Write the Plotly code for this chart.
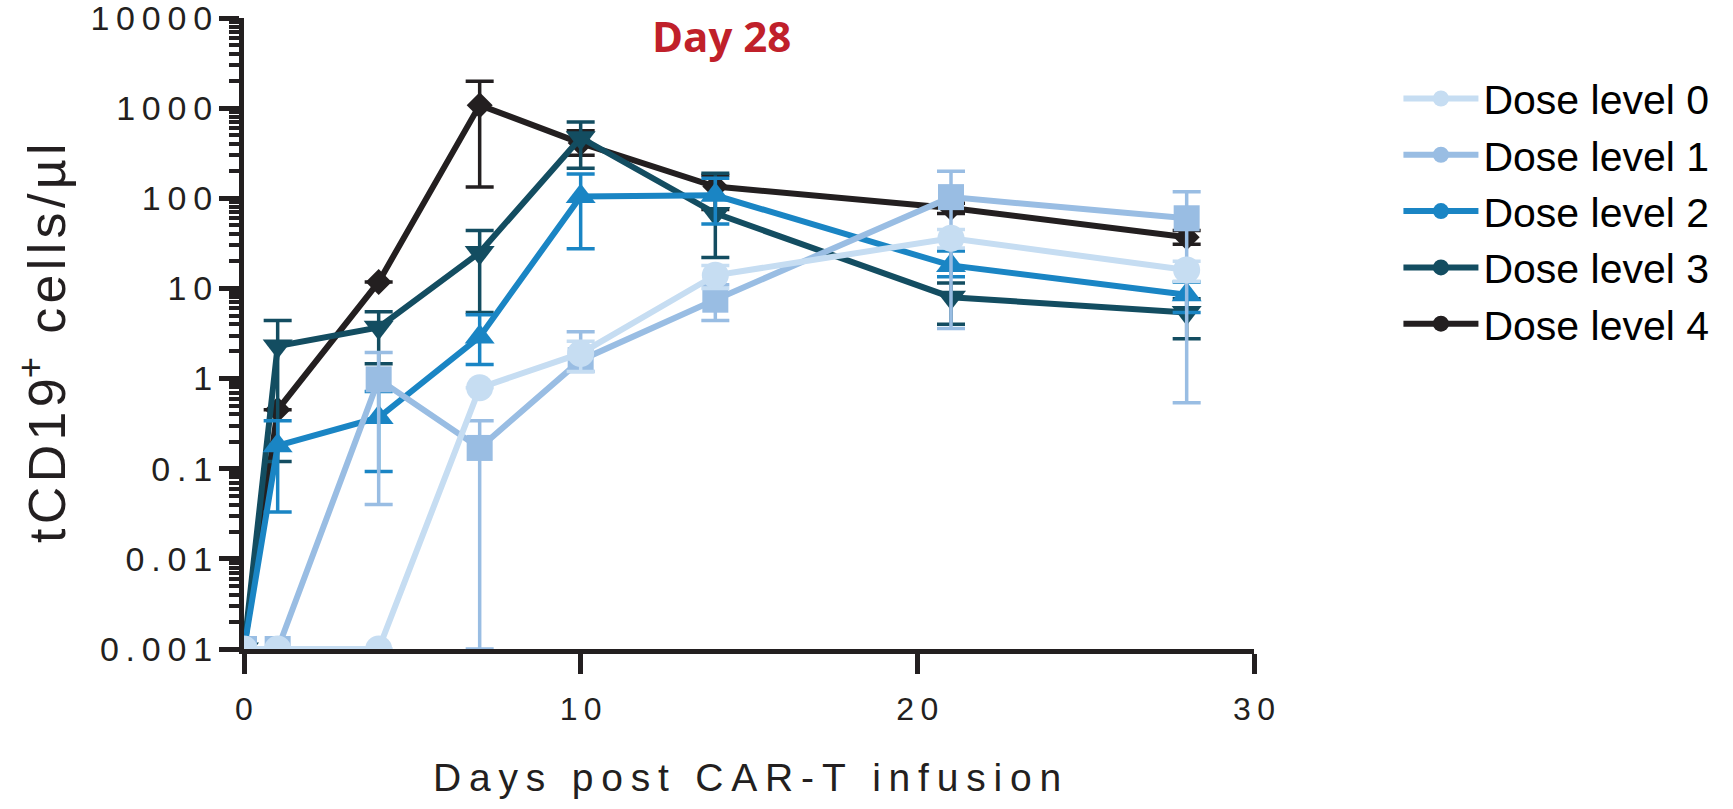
import plotly.graph_objects as go

# ---------------- data ----------------
days = [0, 1, 4, 7, 10, 14, 21, 28]

series_names = ["Dose level 0", "Dose level 1", "Dose level 2", "Dose level 3", "Dose level 4"]

dose0 = [0.001, 0.001, 0.001, 0.79, 1.9, 14, 36, 16]
dose0_hi = [0.001, 0.001, 0.001, 0.79, 2.6, 18, 45, 20]
dose0_lo = [0.001, 0.001, 0.001, 0.79, 1.2, 10, 28, 12]

dose1 = [0.001, 0.001, 0.98, 0.17, 1.6, 7.5, 103, 60]
dose1_hi = [0.001, 0.001, 1.95, 0.34, 3.3, 11, 200, 118]
dose1_lo = [0.001, 0.001, 0.04, 0.001, 1.2, 4.4, 3.6, 0.54]

dose2 = [0.001, 0.18, 0.37, 2.9, 105, 108, 18, 8.5]
dose2_hi = [0.001, 0.34, 0.72, 5.1, 186, 167, 26, 11.8]
dose2_lo = [0.001, 0.033, 0.093, 1.43, 27.5, 52, 13.5, 5.4]

dose3 = [0.001, 2.3, 3.7, 25, 470, 68, 8.0, 5.4]
dose3_hi = [0.001, 4.4, 5.5, 44, 700, 190, 11.5, 7.7]
dose3_lo = [0.001, 0.12, 1.46, 5.4, 216, 22, 4.0, 2.76]

dose4 = [0.001, 0.45, 11.8, 1080, 410, 135, 78, 37]
dose4_hi = [0.001, 0.45, 11.8, 1990, 560, 180, 88, 44]
dose4_lo = [0.001, 0.45, 11.8, 133, 300, 75, 68, 31]

x_tick_vals = [0, 10, 20, 30]
x_tick_labels = ["0", "10", "20", "30"]
y_tick_vals = [0.001, 0.01, 0.1, 1, 10, 100, 1000, 10000]
y_tick_labels = ["0.001", "0.01", "0.1", "1", "10", "100", "1000", "10000"]

title_text = "Day 28"
x_title = "Days post CAR-T infusion"
y_title_parts = ["t", "C", "D", "1", "9<sup>+</sup>"]
y_title_tail = "cells/µl"

# ---------------- styling ----------------
colors = ["#c6ddf2", "#99bde3", "#1a85c4", "#134d61", "#231f20"]
symbols = ["circle", "square", "triangle-up", "triangle-down", "diamond"]
sizes = [27, 26, 26, 26, 20]
INK = "#231f20"
FONT = "Liberation Sans, Arial, Helvetica, sans-serif"
TS = "\u2009"  # thin space used as letter spacing
HS = "\u200a"  # hair space


def spaced(s, sep=TS):
    return sep.join(s)


def spaced_words(s):
    return (TS + " " + TS).join(spaced(w) for w in s.split(" "))


values = [dose0, dose1, dose2, dose3, dose4]
highs = [dose0_hi, dose1_hi, dose2_hi, dose3_hi, dose4_hi]
lows = [dose0_lo, dose1_lo, dose2_lo, dose3_lo, dose4_lo]

fig = go.Figure()

# draw highest dose first so lighter series sit on top (as in the reference)
for i in [4, 3, 2, 1, 0]:
    v, hi, lo = values[i], highs[i], lows[i]
    plus = [h - a for h, a in zip(hi, v)]
    minus = [a - l for a, l in zip(v, lo)]
    fig.add_trace(go.Scatter(
        x=days, y=v, mode="lines+markers", name=series_names[i],
        showlegend=False,
        line=dict(color=colors[i], width=6),
        marker=dict(symbol=symbols[i], size=sizes[i], color=colors[i], line=dict(width=0)),
        error_y=dict(type="data", symmetric=False, array=plus, arrayminus=minus,
                     color=colors[i], thickness=3.5, width=14),
    ))

# legend entries (circles, as in the reference legend)
for i in range(5):
    fig.add_trace(go.Scatter(
        x=[None], y=[None], mode="lines+markers", name=series_names[i],
        line=dict(color=colors[i], width=6),
        marker=dict(symbol="circle", size=22, color=colors[i]),
    ))

y_title_text = spaced(y_title_parts, HS) + HS + " " + HS + spaced(y_title_tail, HS)

fig.update_layout(
    width=1733, height=809,
    margin=dict(l=244, r=479, t=18, b=160, autoexpand=False),
    plot_bgcolor="white", paper_bgcolor="white",
    font=dict(family=FONT, color=INK),
    legend=dict(x=1.143, y=0.925, xanchor="left", yanchor="top",
                font=dict(size=41, family=FONT, color="#000000"),
                itemsizing="trace", itemwidth=75, tracegroupgap=0,
                bgcolor="rgba(0,0,0,0)"),
    annotations=[
        dict(text="<b>" + title_text + "</b>", xref="paper", yref="paper",
             x=0.4723, y=0.972, xanchor="center", yanchor="middle", showarrow=False,
             font=dict(family="Open Sans, Noto Sans, sans-serif", size=42, color="#c0202a")),
        dict(text=spaced_words(x_title), xref="paper", yref="paper",
             x=0.498, y=-0.2044, xanchor="center", yanchor="middle", showarrow=False,
             font=dict(family=FONT, size=39, color=INK)),
        dict(text=y_title_text,
             xref="paper", yref="paper",
             x=-0.199, y=0.485, xanchor="center", yanchor="middle", showarrow=False,
             textangle=-90, font=dict(family=FONT, size=52, color=INK)),
    ],
)

fig.update_xaxes(
    range=[0, 30], showgrid=False, zeroline=False, automargin=False,
    showline=True, linewidth=5, linecolor=INK,
    ticks="outside", ticklen=20, tickwidth=5, tickcolor=INK,
    tickmode="array", tickvals=x_tick_vals, ticktext=[spaced(t) for t in x_tick_labels],
    tickfont=dict(family=FONT, size=32, color=INK),
    ticklabelstandoff=8,
)

fig.update_yaxes(
    type="log", range=[-3, 4], showgrid=False, zeroline=False, automargin=False,
    showline=True, linewidth=5, linecolor=INK,
    ticks="outside", ticklen=20, tickwidth=5, tickcolor=INK,
    tickmode="array", tickvals=y_tick_vals, ticktext=[spaced(t) for t in y_tick_labels],
    tickfont=dict(family=FONT, size=34, color=INK),
    ticklabeloverflow="allow",
    minor=dict(tickmode="array",
               tickvals=[m * 10.0 ** k for k in range(-3, 4) for m in range(2, 10)],
               ticks="outside", ticklen=10, tickwidth=4, tickcolor=INK, showgrid=False),
)

fig.write_html("out.html")
